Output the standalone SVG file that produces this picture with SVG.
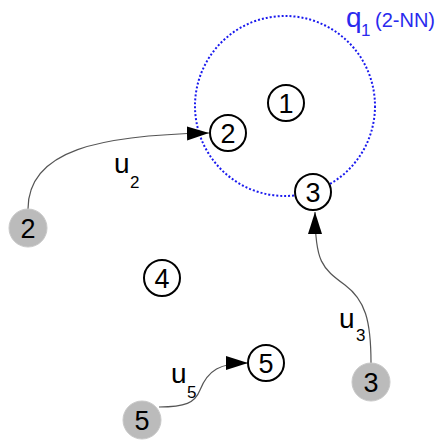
<svg xmlns="http://www.w3.org/2000/svg" width="444" height="441" viewBox="0 0 444 441">
<style>
.n{fill:#fff;stroke:#000;stroke-width:2}
.g{fill:#bbb;stroke:#c8c8c8;stroke-width:1}
.t{font-family:"Liberation Sans",Arial,sans-serif;font-size:27px;fill:#000;text-anchor:middle}
.e{fill:none;stroke:#555;stroke-width:1.2}
.l{font-family:"Liberation Sans",Arial,sans-serif;font-size:28px;fill:#000}
.s{font-family:"Liberation Sans",Arial,sans-serif;font-size:17px;fill:#000}
.q{font-family:"Liberation Sans",Arial,sans-serif;fill:#2a2aee}
</style>
<defs>
<marker id="ah" markerWidth="24" markerHeight="16" refX="22" refY="8" orient="auto" markerUnits="userSpaceOnUse">
<path d="M0,1 L22,8 L0,15 Z" fill="#000"/>
</marker>
</defs>
<g id="query">
<circle cx="285" cy="106" r="90" fill="none" stroke="#1a1aee" stroke-width="2" stroke-dasharray="2,2"/>
<text class="q" x="346" y="27" font-size="28">q</text>
<text class="q" x="361" y="36" font-size="17">1</text>
<text class="q" x="375" y="27" font-size="20">(2-NN)</text>
</g>
<g id="edges">
<path class="e" d="M28,209 C28,150 100,135 209,133" marker-end="url(#ah)"/>
<text class="l" x="114" y="173">u</text><text class="s" x="130" y="188">2</text>
<path class="e" d="M371,363 C371,320 365,300 345,285 C322,268 315,262 315,212" marker-end="url(#ah)"/>
<text class="l" x="339" y="328">u</text><text class="s" x="356" y="341">3</text>
<path class="e" d="M159,407 C185,407 195,403 200,390 C208,370 220,363 248,363" marker-end="url(#ah)"/>
<text class="l" x="171" y="383">u</text><text class="s" x="187" y="398">5</text>
</g>
<g id="n1"><circle class="n" cx="286" cy="103" r="18"/><text class="t" x="286" y="113">1</text></g>
<g id="n2"><circle class="n" cx="228" cy="133" r="18"/><text class="t" x="228" y="143">2</text></g>
<g id="n3"><circle class="n" cx="313" cy="192" r="18"/><text class="t" x="313" y="202">3</text></g>
<g id="n4"><circle class="n" cx="162" cy="278" r="18"/><text class="t" x="162" y="288">4</text></g>
<g id="n5"><circle class="n" cx="266" cy="363" r="18"/><text class="t" x="266" y="373">5</text></g>
<g id="g2"><circle class="g" cx="28" cy="228" r="19"/><text class="t" x="28" y="238">2</text></g>
<g id="g3"><circle class="g" cx="371" cy="382" r="19"/><text class="t" x="371" y="392">3</text></g>
<g id="g5"><circle class="g" cx="142" cy="420" r="19"/><text class="t" x="142" y="430">5</text></g>
</svg>
